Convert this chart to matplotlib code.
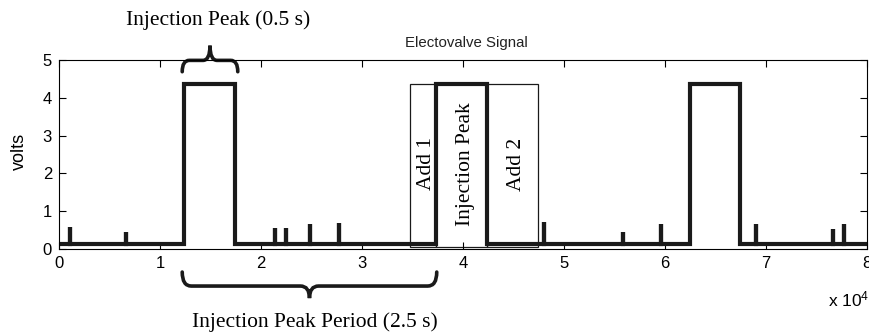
import matplotlib.pyplot as plt
from matplotlib.path import Path
from matplotlib.patches import PathPatch, Rectangle
from matplotlib.ticker import FuncFormatter

# signal description (x in samples)
pulse_on = [12400, 37350, 62500]
pulse_off = [17380, 42400, 67450]
v_low = 0.13
v_high = 4.36
spike_x = [1090, 6600, 21400, 22500, 24900, 27700, 48000, 55800, 59600, 69000, 76600, 77700]
spike_v = [0.58, 0.45, 0.56, 0.56, 0.66, 0.69, 0.71, 0.45, 0.66, 0.66, 0.53, 0.66]

box_names = ['Add 1', 'Injection Peak', 'Add 2']
box_start = [34800, 37350, 42400]
box_end = [37350, 42400, 47400]
box_top = 4.37
box_bottom = 0.06

serif = 'Liberation Serif'
sans = 'Liberation Sans'
plt.rcParams['font.family'] = sans
plt.rcParams['mathtext.default'] = 'regular'


def build_signal():
    pts = [(0, v_low)]
    for a, b in zip(pulse_on, pulse_off):
        pts += [(a, v_low), (a, v_high), (b, v_high), (b, v_low)]
    for x, v in zip(spike_x, spike_v):
        pts += [(x, v_low), (x, v), (x, v_low)]
    pts.append((80000, v_low))
    pts.sort(key=lambda p: p[0])  # stable sort keeps rise/fall order
    return [p[0] for p in pts], [p[1] for p in pts]


def brace(ax, x0, x1, y_tip, y_mid, y_pt, q):
    xc = (x0 + x1) / 2
    verts = [(x0, y_tip), (x0, y_mid), (x0 + q, y_mid),
             (xc - q, y_mid), (xc, y_mid), (xc, y_pt),
             (xc, y_mid), (xc + q, y_mid),
             (x1 - q, y_mid), (x1, y_mid), (x1, y_tip)]
    codes = [Path.MOVETO, Path.CURVE3, Path.CURVE3,
             Path.LINETO, Path.CURVE3, Path.CURVE3,
             Path.CURVE3, Path.CURVE3,
             Path.LINETO, Path.CURVE3, Path.CURVE3]
    patch = PathPatch(Path(verts, codes), fill=False, lw=2.6, color='#1a1a1a',
                      clip_on=False, capstyle='round')
    ax.add_patch(patch)


fig = plt.figure(figsize=(8.7, 3.36), dpi=100)
ax = fig.add_axes([59 / 870, 87 / 336, 808 / 870, 189 / 336])

# boxes
for name, a, b in zip(box_names, box_start, box_end):
    ax.add_patch(Rectangle((a, box_bottom), b - a, box_top - box_bottom,
                           fill=False, lw=0.9, ec='#1a1a1a'))
    ax.text((a + b) / 2 + 350, 2.25, name, rotation=90, ha='center', va='center',
            family=serif, fontsize=15.5)

t, v = build_signal()
ax.plot(t, v, color='#1a1a1a', lw=3.0, solid_joinstyle='miter')

ax.set_xlim(0, 80000)
ax.set_ylim(0, 5)
ax.set_xticks(range(0, 80001, 10000))
ax.set_yticks(range(0, 6))
ax.xaxis.set_major_formatter(FuncFormatter(lambda x, p: '%d' % round(x / 1e4)))
ax.tick_params(direction='in', top=True, right=True, length=5, width=0.8,
               labelsize=12, pad=5)
for s in ax.spines.values():
    s.set_linewidth(0.8)

# braces
brace(ax, 12200, 17700, 4.69, 4.99, 5.38, 700)
brace(ax, 12200, 37400, -0.61, -0.98, -1.30, 900)

fig.text(218 / 870, 1 - 20 / 336, 'Injection Peak (0.5 s)', ha='center', va='center',
         family=serif, fontsize=15.5)
fig.text(315 / 870, 1 - 322 / 336, 'Injection Peak Period (2.5 s)', ha='center',
         va='center', family=serif, fontsize=15.5)
fig.text(466 / 870, 1 - 43 / 336, 'Electovalve Signal', ha='center', va='center',
         fontsize=10.8, color='#222222')
fig.text(19 / 870, 1 - 151 / 336, 'volts', rotation=90, ha='center', va='center',
         fontsize=13)
fig.text(869 / 870, 1 - 299 / 336, 'x 10$^4$', ha='right', va='center', fontsize=12.5)

fig.savefig('out.png', dpi=100)
